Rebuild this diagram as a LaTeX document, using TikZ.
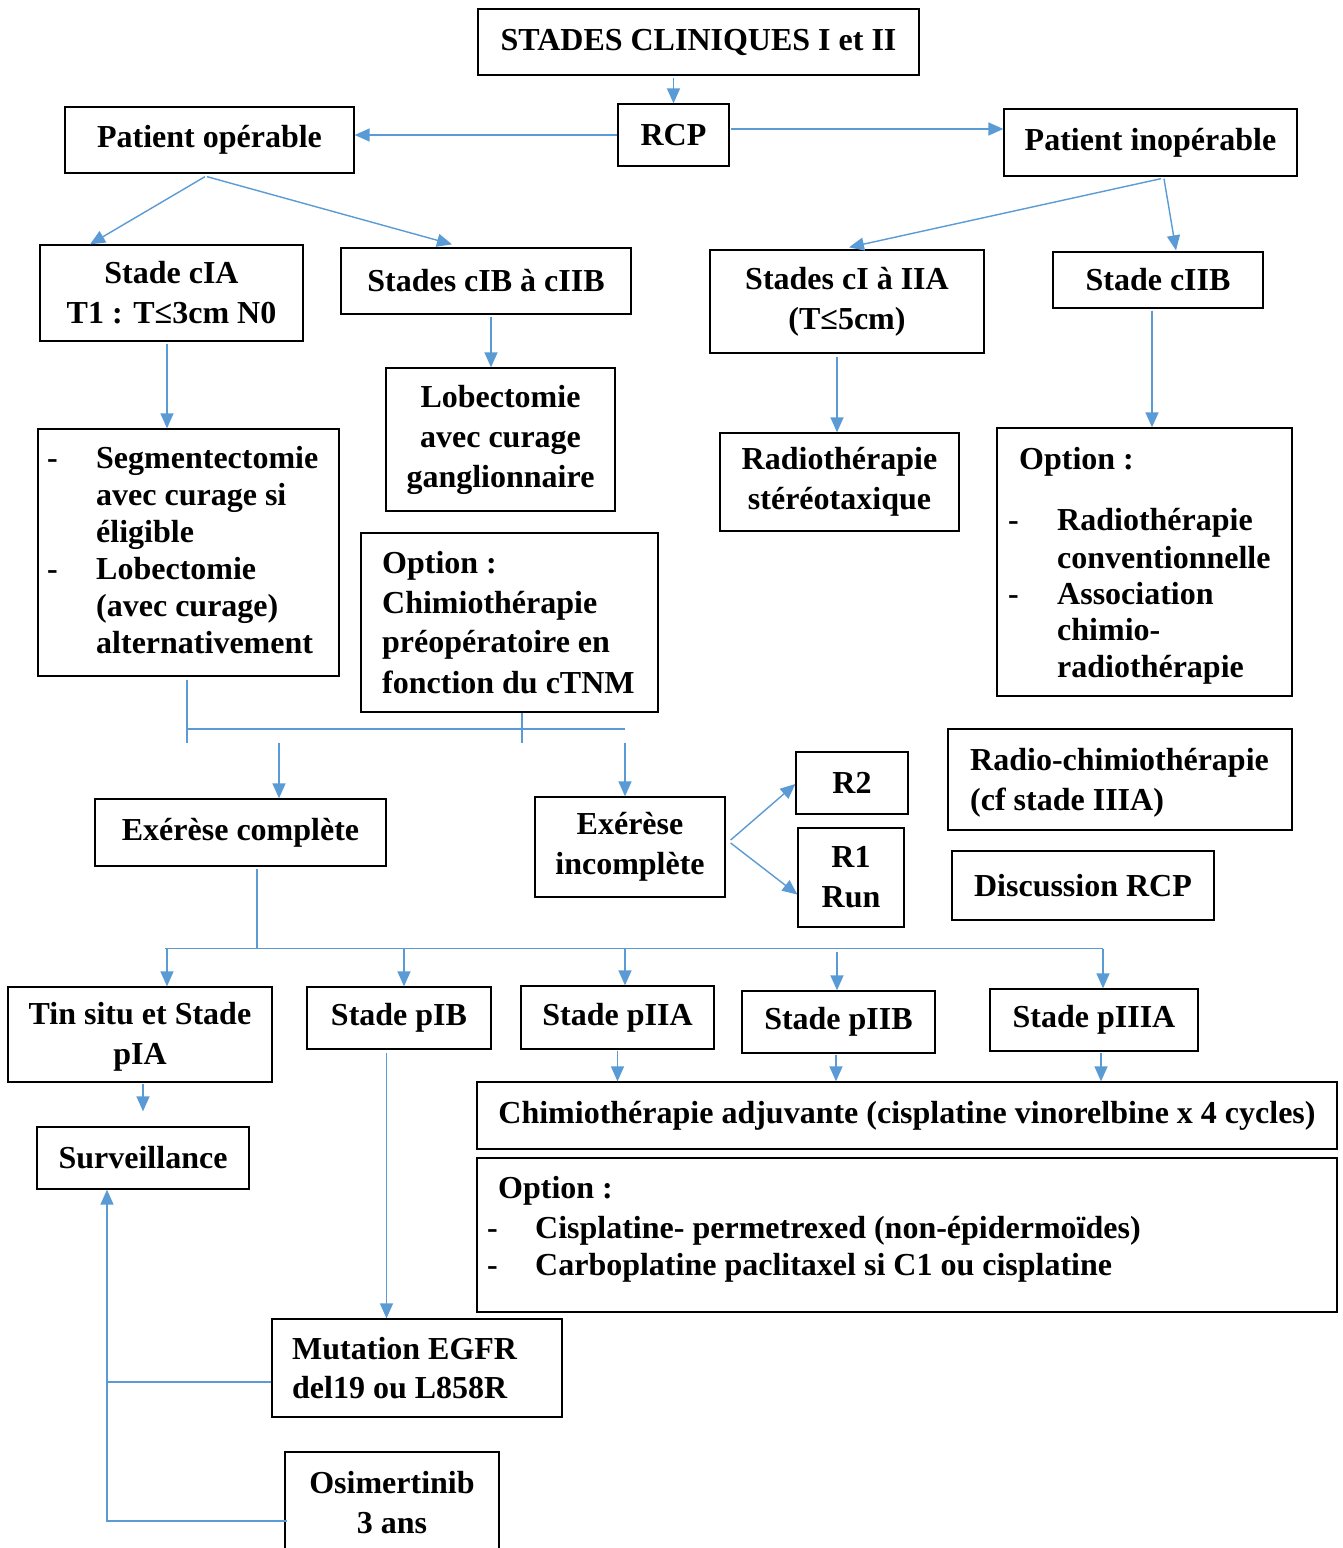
\documentclass[tikz,border=0pt]{standalone}
\usepackage{fontspec}
\setmainfont{Liberation Serif}
\usetikzlibrary{arrows.meta,calc}
\definecolor{lblue}{HTML}{5B9BD5}
\newcommand\dfont{\fontsize{32}{40}\selectfont\bfseries}
\begin{document}
\begin{tikzpicture}[x=1pt,y=-1pt,
  box/.style={draw=black, line width=1.3pt, inner sep=0pt, align=center, font=\dfont},
  conn/.style={draw=lblue, line width=1.4pt},
  arr/.style={conn, -{Triangle[length=15pt,width=13pt]}},
  lt/.style={anchor=base west, inner sep=0pt, font=\dfont},
]
\useasboundingbox (0,0) rectangle (1343,1548);
\fill[white] (0,0) rectangle (1343,1548);

% boxes
\node[box,minimum width=441,minimum height=66] (stades) at (698.5,42) {STADES CLINIQUES I et II};
\node[box,minimum width=111,minimum height=62] (rcp) at (673.5,135) {RCP};
\node[box,minimum width=289,minimum height=66] (op) at (209.5,140) {Patient opérable};
\node[box,minimum width=293,minimum height=67] (inop) at (1150.5,142.5) {Patient inopérable};
\node[box,minimum width=263,minimum height=96] (cia) at (171.5,293) {Stade cIA\\T1 : T≤3cm N0};
\node[box,minimum width=290,minimum height=66] (cib) at (486,281) {Stades cIB à cIIB};
\node[box,minimum width=274,minimum height=103] (ci) at (847,301.5) {Stades cI à IIA\\(T≤5cm)};
\node[box,minimum width=210,minimum height=56] (ciib) at (1158,280) {Stade cIIB};
\node[box,minimum width=301,minimum height=247] (seg) at (188.5,552.5) {};
\node[box,minimum width=229,minimum height=143] (lob) at (500.5,439.5) {Lobectomie\\avec curage\\ganglionnaire};
\node[box,minimum width=297,minimum height=179] (opt1) at (509.5,622.5) {};
\node[box,minimum width=239,minimum height=98] (radst) at (839.5,482) {Radiothérapie\\stéréotaxique};
\node[box,minimum width=295,minimum height=268] (opt2) at (1144.5,562) {};
\node[box,minimum width=344,minimum height=101] (rc) at (1120,779.5) {};
\node[box,minimum width=262,minimum height=69] (disc) at (1083,885.5) {Discussion RCP};
\node[box,minimum width=291,minimum height=67] (exc) at (240.5,832.5) {Exérèse complète};
\node[box,minimum width=190,minimum height=100] (exi) at (630,847) {Exérèse\\incomplète};
\node[box,minimum width=112,minimum height=62] (r2) at (852,783) {R2};
\node[box,minimum width=106,minimum height=99] (r1) at (851,877.5) {R1\\Run};
\node[box,minimum width=264,minimum height=95] (tin) at (140,1034.5) {};
\node[font=\dfont, align=center, inner sep=0pt] (tint) at (140,1037) {Tin situ et Stade\\pIA};
\node[box,minimum width=184,minimum height=62] (pib) at (399,1018) {Stade pIB};
\node[box,minimum width=193,minimum height=63] (piia) at (617.5,1017.5) {Stade pIIA};
\node[box,minimum width=193,minimum height=62] (piib) at (838.5,1022) {Stade pIIB};
\node[box,minimum width=208,minimum height=62] (piiia) at (1094,1020) {Stade pIIIA};
\node[box,minimum width=860,minimum height=67] (adj) at (907,1115.5) {Chimiothérapie adjuvante (cisplatine vinorelbine x 4 cycles)};
\node[box,minimum width=860,minimum height=154] (opt3) at (907,1235) {};
\node[box,minimum width=212,minimum height=62] (surv) at (143,1158) {Surveillance};
\node[box,minimum width=290,minimum height=98] (egfr) at (417,1368) {};
\node[box,minimum width=214,minimum height=120] (osi) at (392,1512) {};
\node[font=\dfont, align=center, inner sep=0pt] (osit) at (392,1503) {Osimertinib\\3 ans};

% list texts
\node[lt] (sd1) at (47,468) {-};
\node[lt] (sd2) at (47,579) {-};
\node[lt] (s1) at (96,468) {Segmentectomie};
\node[lt] (s2) at (96,505) {avec curage si};
\node[lt] (s3) at (96,542) {éligible};
\node[lt] (s4) at (96,579) {Lobectomie};
\node[lt] (s5) at (96,616) {(avec curage)};
\node[lt] (s6) at (96,653) {alternativement};

\node[lt] (o1) at (382,573) {Option :};
\node[lt] (o2) at (382,613) {Chimiothérapie};
\node[lt] (o3) at (382,652) {préopératoire en};
\node[lt] (o4) at (382,693) {fonction du cTNM};

\node[lt] (p1) at (1019,469) {Option :};
\node[lt] (pd1) at (1008,530) {-};
\node[lt] (pd2) at (1008,604) {-};
\node[lt] (p2) at (1057,530) {Radiothérapie};
\node[lt] (p3) at (1057,568) {conventionnelle};
\node[lt] (p4) at (1057,604) {Association};
\node[lt] (p5) at (1057,640) {chimio-};
\node[lt] (p6) at (1057,677) {radiothérapie};

\node[lt] (rc1) at (970,770) {Radio-chimiothérapie};
\node[lt] (rc2) at (970,810) {(cf stade IIIA)};

\node[lt] (q1) at (498,1198) {Option :};
\node[lt] (qd1) at (487,1238) {-};
\node[lt] (qd2) at (487,1275) {-};
\node[lt] (q2) at (535,1238) {Cisplatine- permetrexed (non-épidermoïdes)};
\node[lt] (q3) at (535,1275) {Carboplatine paclitaxel si C1 ou cisplatine};

\node[lt] (e1) at (292,1359) {Mutation EGFR};
\node[lt] (e2) at (292,1398) {del19 ou L858R};

% connectors
\draw[arr] ($(rcp.north |- stades.south)+(0,2)$) -- (rcp.north);
\draw[arr] (rcp.west) -- (rcp.west -| op.east);
\coordinate (c3) at ($(rcp.east)+(1,-6)$);
\draw[arr] (c3) -- (c3 -| inop.west);
\draw[arr] ($(op.south)+(-4.5,3)$) -- ($(cia.north)+(-81.5,0)$);
\draw[arr] ($(op.south)+(-2.5,3)$) -- ($(cib.north)+(-34,-3)$);
\draw[arr] ($(inop.south)+(10.5,2)$) -- ($(ci.north)+(2,-2)$);
\draw[arr] ($(inop.south)+(13.5,2)$) -- ($(ciib.north)+(18,-1)$);
\coordinate (c8) at ($(cia.south)+(-4.5,2)$);
\draw[arr] (c8) -- (c8 |- seg.north);
\coordinate (c9) at ($(cib.south)+(5,2)$);
\draw[arr] (c9) -- (c9 |- lob.north);
\coordinate (c10) at ($(ci.south)+(-10,3)$);
\draw[arr] (c10) -- (c10 |- radst.north);
\coordinate (c11) at ($(ciib.south)+(-6,2)$);
\draw[arr] (c11) -- (c11 |- opt2.north);

% junction after surgery
\coordinate (jA) at (187,729);
\coordinate (jB) at (625,729);
\coordinate (jlow) at (0,743);
\draw[conn] ($(seg.south)+(-1.5,3)$) -- ($(seg.south |- jlow)+(-1.5,0)$);
\draw[conn] (jA) -- (jB);
\draw[conn] ($(opt1.south)+(12.5,0)$) -- ($(opt1.south |- jlow)+(12.5,0)$);
\coordinate (c12) at ($(exc.north |- jlow)+(38.5,0)$);
\draw[arr] (c12) -- (c12 |- exc.north);
\coordinate (c13) at ($(exi.north |- jlow)+(-5,0)$);
\draw[arr] (c13) -- (c13 |- exi.north);

\draw[arr] ($(exi.east)+(5,-7)$) -- ($(r2.west)+(0,1)$);
\draw[arr] ($(exi.east)+(5,-4)$) -- ($(r1.west)+(0,17)$);

% bottom distribution
\coordinate (hL) at (165,948.5);
\coordinate (hR) at (1103,948.5);
\draw[conn] ($(exc.south)+(16.5,2)$) -- ($(exc.south |- hL)+(16.5,0)$);
\draw[conn] (hL) -- (hR);
\draw[arr] (hR) -- (hR |- piiia.north);
\coordinate (c14) at ($(tin.north)+(27,0)$);
\draw[arr] (c14 |- hL) -- (c14);
\coordinate (c15) at ($(pib.north)+(5,0)$);
\draw[arr] (c15 |- hL) -- (c15);
\coordinate (c16) at ($(piia.north)+(7.5,0)$);
\draw[arr] (c16 |- hL) -- (c16);
\coordinate (c17) at ($(piib.north)+(-1.5,0)$);
\draw[arr] ($(c17 |- hL)+(0,3)$) -- (c17);

\coordinate (c18) at ($(piia.south)+(0,1)$);
\draw[arr] (c18) -- (c18 |- adj.north);
\coordinate (c19) at ($(piib.south)+(-2.5,1)$);
\draw[arr] (c19) -- (c19 |- adj.north);
\coordinate (c20) at ($(piiia.south)+(7,1)$);
\draw[arr] (c20) -- (c20 |- adj.north);

\coordinate (c21) at ($(tin.south)+(3,1)$);
\draw[arr] (c21) -- ($(c21 |- surv.north)+(0,-15)$);
\coordinate (c22) at ($(pib.south)+(-12.5,3)$);
\draw[arr] (c22) -- (c22 |- egfr.north);

\coordinate (vx) at ($(surv.south)+(-36,0)$);
\coordinate (c23) at ($(osi.west)+(3,9)$);
\draw[arr] (c23) -| (vx);
\coordinate (c24) at ($(egfr.west)+(0,14)$);
\draw[conn] (c24) -- (c24 -| vx);
\end{tikzpicture}
\end{document}
